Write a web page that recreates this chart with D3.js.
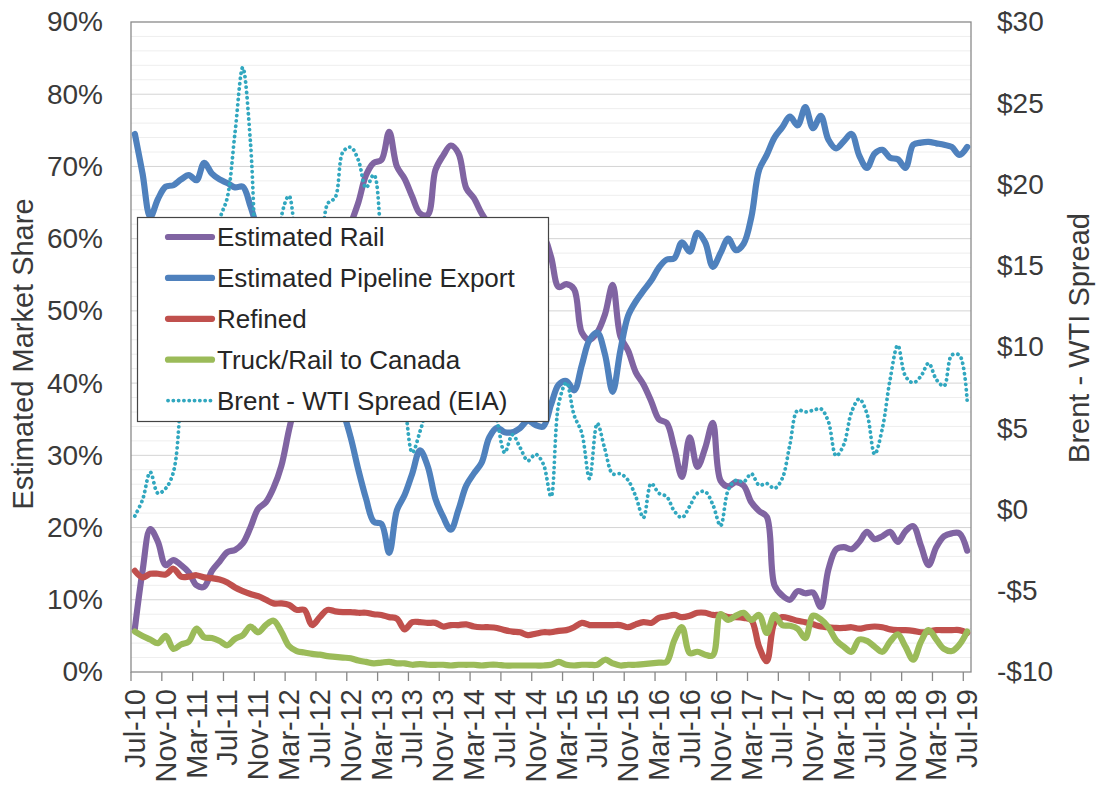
<!DOCTYPE html>
<html>
<head>
<meta charset="utf-8">
<script src="https://cdn.jsdelivr.net/npm/d3@7"></script>
<style>
body { margin: 0; background: #fff; }
svg { display: block; font-family: "Liberation Sans", Arial, sans-serif; }
</style>
</head>
<body>
<script>
// months Jul-10 .. Jul-19
let fmtMonth = d3.timeFormat("%b-%y");
let months = d3.timeMonth.range(new Date(2010, 6, 1), new Date(2019, 7, 1)).map(fmtMonth);
let tickMonths = months.filter(function (d, i) { return i % 4 === 0; });
let leftTicks = [0, 10, 20, 30, 40, 50, 60, 70, 80, 90];
let rightTicks = [-10, -5, 0, 5, 10, 15, 20, 25, 30];

// estimated market share, %
let rail = [6, 14, 19.8, 18, 14.8, 15.5, 14.8, 13.8, 12, 11.8,
    14, 15.3, 16.6, 16.9, 17.8, 20, 22.6, 23.5, 25.5, 28.5,
    33.5, 38, 42, 46, 50, 53, 56, 59, 62, 65,
    68.8, 70.5, 70.9, 74.8, 70, 68.3, 65.8, 63.5, 63.3, 69.5,
    71.5, 72.9, 71.8, 67, 65.6, 63.5, 62, 61.5, 61, 60.5,
    61, 60.5, 60.5, 60.3, 57.5, 53.3, 53.7, 53, 47, 46,
    47, 49.5, 53.6, 46.5, 44.5, 41.5, 39.8, 37.5, 35, 34.5,
    31, 27, 32.5, 28.4, 31, 34.5, 26.5, 25.7, 26.3, 25.8,
    23.5, 22.3, 21.5, 12, 10.6, 10, 11.2, 10.9, 11, 9,
    14.2, 17, 17.3, 17, 18, 19.4, 18.4, 18.8, 19.4, 18,
    19.5, 20.2, 17.5, 14.8, 17.3, 18.8, 19.2, 19.2, 16.8];
let pipeline = [74.5, 69, 63, 65.5, 67.2, 67.4, 68.2, 68.8, 68.1, 70.5,
    69, 68.2, 67.7, 67.1, 67.2, 64.5, 61, 58, 55.5, 53,
    50.5, 48, 46, 44, 42, 40, 38, 36, 32.5, 28,
    24, 20.8, 20.5, 16.5, 22.4, 24.5, 27.5, 30.7, 28.5, 24,
    21.5, 19.7, 22.5, 25.8, 27.5, 29, 32.5, 33.8, 33.2, 33.2,
    33.8, 34.8, 34.2, 34, 37, 39.8, 40.3, 39, 42.5, 46,
    47, 44, 38.8, 44.5, 49.3, 51.3, 52.8, 54.2, 56, 57.1,
    57.3, 59.5, 58.2, 60.8, 59.5, 56.1, 58, 60, 58.4, 59.3,
    63, 69.5, 71.6, 74, 75.4, 76.9, 75.7, 78.2, 75.3, 77,
    73.7, 72.5, 73.5, 74.5, 71.5, 69.8, 71.8, 72.3, 71.2, 71,
    69.8, 73, 73.3, 73.4, 73.2, 73, 72.7, 71.6, 72.7];
let refined = [14, 13.1, 13.6, 13.6, 13.5, 14.3, 13.2, 13.2, 13.4, 13.1,
    13, 12.8, 12.4, 11.7, 11.2, 10.8, 10.5, 10, 9.5, 9.5,
    9.3, 8.6, 8.6, 6.5, 7.6, 8.6, 8.4, 8.3, 8.3, 8.2,
    8.2, 8, 7.9, 7.6, 7.4, 5.9, 6.9, 6.9, 6.8, 6.8,
    6.3, 6.5, 6.5, 6.6, 6.3, 6.2, 6.2, 6.1, 5.8, 5.6,
    5.5, 5.1, 5.3, 5.5, 5.5, 5.7, 5.8, 6.2, 6.8, 6.5,
    6.5, 6.5, 6.5, 6.5, 6.2, 6.6, 6.9, 6.8, 7.5, 7.7,
    7.9, 7.6, 7.8, 8.2, 8.2, 7.9, 7.9, 7.6, 7.6, 7.5,
    7.2, 3.5, 1.5, 6.8, 7.6, 7.4, 7.1, 6.9, 6.6, 6.3,
    6.2, 6.1, 6.1, 6.2, 6, 6.2, 6.3, 6.2, 5.9, 5.8,
    5.8, 5.7, 5.5, 5.6, 5.8, 5.8, 5.8, 5.8, 5.4];
let truck = [5.6, 5, 4.5, 4, 5, 3.2, 3.8, 4.2, 6, 4.8,
    4.7, 4.3, 3.7, 4.6, 5.1, 6.3, 5.5, 6.5, 7.1, 5.6,
    3.6, 2.9, 2.7, 2.5, 2.4, 2.2, 2.1, 2, 1.9, 1.6,
    1.4, 1.2, 1.3, 1.4, 1.2, 1.2, 1, 1.1, 1, 1,
    1, 0.9, 1, 1, 1, 0.9, 1, 1, 0.9, 0.9,
    0.9, 0.9, 0.9, 0.9, 1, 1.4, 1, 0.9, 1, 1,
    1, 1.7, 1.2, 0.9, 1, 1, 1.1, 1.2, 1.3, 1.4,
    4.4, 6.2, 2.6, 2.8, 2.4, 2.3, 8, 7.2, 7.8, 8.2,
    7.2, 7.9, 5.4, 7.9, 6.5, 6.4, 6, 4.7, 7.8, 7.3,
    6.2, 4.4, 3.5, 2.8, 4.5, 4.3, 3.5, 2.8, 4.2, 5.2,
    3.5, 1.7, 4.2, 5.8, 4.5, 3.2, 2.9, 3.8, 5.6];
// Brent - WTI spread, $/bbl
let spread = [-0.4, 0.6, 2.3, 1, 1.3, 2.3, 7.2, 14.5, 11, 13.3,
    13.2, 17.8, 19.2, 23.2, 27.2, 22.6, 12.8, 9.5, 10.5, 18,
    19.3, 16.4, 15.2, 13.7, 14.7, 18.8, 19.2, 22, 22.3, 21.5,
    19.8, 20.6, 16.2, 10.5, 8.4, 6.5, 3.5, 4.8, 6.5, 8.9,
    14.5, 12.5, 13.7, 8.5, 7.3, 6, 7.3, 5.5, 3.5, 4.6,
    3.8, 3, 3.4, 2.8, 0.8, 6.5, 7.8, 5.8, 4.7, 1.9,
    5.3, 3.7, 2.2, 2.2, 1.8, 0.8, -0.5, 1.6, 1, 0.8,
    -0.1, -0.5, 0.2, 1, 1.1, 0.3, -1, 1.2, 1.8, 1.7,
    2.2, 1.5, 1.6, 1.3, 1.9, 4, 6.1, 6, 6.1, 6.2,
    5.4, 3.3, 4, 6, 6.8, 5.9, 3.4, 5, 8, 10.1,
    8.2, 7.8, 8.2, 9, 8, 7.6, 9.5, 9.5, 6.7];

let series = [
    {name: "Estimated Rail", values: rail, color: "#8064a2", right: false},
    {name: "Estimated Pipeline Export", values: pipeline, color: "#4f81bd", right: false},
    {name: "Refined", values: refined, color: "#c0504d", right: false},
    {name: "Truck/Rail to Canada", values: truck, color: "#9bbb59", right: false},
    {name: "Brent - WTI Spread (EIA)", values: spread, color: "#31a7bf", right: true}
];

function draw() {
    let W = 1097, H = 785;
    let left = 131, right = 971, top = 22, bottom = 672;
    let textColor = "#3a3a3a";

    let svg = d3.select("body").append("svg")
        .attr("width", W)
        .attr("height", H);

    let x = d3.scaleBand().domain(months).range([left, right]).padding(0);
    let yL = d3.scaleLinear().domain([0, 90]).range([bottom, top]);
    let yR = d3.scaleLinear().domain([-10, 30]).range([bottom, top]);

    // gridlines, light every 2%, darker every 10%
    svg.append("g").selectAll("line")
        .data(yL.ticks(45).filter(function (d) { return d > 0 && d < 90; }))
        .enter().append("line")
        .attr("x1", left).attr("x2", right)
        .attr("y1", function (d) { return yL(d); })
        .attr("y2", function (d) { return yL(d); })
        .attr("stroke", function (d) { return d % 10 === 0 ? "#d4d4d4" : "#eeeeee"; })
        .attr("stroke-width", 1);

    // left axis labels
    let axL = svg.append("g")
        .attr("transform", "translate(" + left + ",0)")
        .call(d3.axisLeft(yL).tickValues(leftTicks).tickSize(0).tickPadding(28)
            .tickFormat(function (d) { return d + "%"; }));
    axL.select(".domain").remove();
    axL.selectAll("text").attr("font-size", 28).attr("fill", textColor)
        .style("font-family", "Liberation Sans, Arial, sans-serif");

    // right axis labels
    let axR = svg.append("g")
        .attr("transform", "translate(" + right + ",0)")
        .call(d3.axisRight(yR).tickValues(rightTicks).tickSize(0).tickPadding(26)
            .tickFormat(function (d) { return (d < 0 ? "-$" : "$") + Math.abs(d); }));
    axR.select(".domain").remove();
    axR.selectAll("text").attr("font-size", 28).attr("fill", textColor)
        .style("font-family", "Liberation Sans, Arial, sans-serif");

    // bottom axis: tick marks on month boundaries, labels on month centres
    svg.append("g").selectAll("line")
        .data(tickMonths)
        .enter().append("line")
        .attr("x1", function (d) { return x(d); })
        .attr("x2", function (d) { return x(d); })
        .attr("y1", bottom).attr("y2", bottom + 9)
        .attr("stroke", "#888").attr("stroke-width", 1.3);
    let axB = svg.append("g")
        .attr("transform", "translate(0," + bottom + ")")
        .call(d3.axisBottom(x).tickValues(tickMonths).tickSize(0));
    axB.select(".domain").remove();
    axB.selectAll("text")
        .attr("transform", "rotate(-90)")
        .attr("x", -17).attr("y", 0).attr("dy", "0.35em")
        .attr("text-anchor", "end")
        .attr("font-size", 29).attr("fill", textColor)
        .style("font-family", "Liberation Sans, Arial, sans-serif");

    // plot frame
    svg.append("rect")
        .attr("x", left).attr("y", top)
        .attr("width", right - left).attr("height", bottom - top)
        .attr("fill", "none").attr("stroke", "#8a8a8a").attr("stroke-width", 1.3);

    // axis titles
    svg.append("text")
        .attr("transform", "translate(33,354) rotate(-90)")
        .attr("text-anchor", "middle")
        .attr("font-size", 29).attr("fill", textColor)
        .text("Estimated Market Share");
    svg.append("text")
        .attr("transform", "translate(1089,338) rotate(-90)")
        .attr("text-anchor", "middle")
        .attr("font-size", 29).attr("fill", textColor)
        .text("Brent - WTI Spread");

    // lines
    let lineL = d3.line()
        .x(function (d, i) { return x(months[i]) + x.bandwidth() / 2; })
        .y(function (d) { return yL(d); })
        .curve(d3.curveCatmullRom);
    let lineR = d3.line()
        .x(function (d, i) { return x(months[i]) + x.bandwidth() / 2; })
        .y(function (d) { return yR(d); })
        .curve(d3.curveCatmullRom);

    svg.append("g").selectAll("path")
        .data(series)
        .enter().append("path")
        .attr("d", function (s) { return s.right ? lineR(s.values) : lineL(s.values); })
        .attr("fill", "none")
        .attr("stroke", function (s) { return s.color; })
        .attr("stroke-width", function (s) { return s.right ? 3.8 : 6.2; })
        .attr("stroke-linecap", "round")
        .attr("stroke-linejoin", "round")
        .attr("stroke-dasharray", function (s) { return s.right ? "0.1,5.2" : null; });

    // legend
    let lg = svg.append("g");
    lg.append("rect")
        .attr("x", 137.5).attr("y", 217.5)
        .attr("width", 411).attr("height", 204)
        .attr("fill", "#fff").attr("stroke", "#444").attr("stroke-width", 1.2);
    let rowY = function (i) { return 237 + i * 40.9; };
    lg.selectAll(".lgline")
        .data(series)
        .enter().append("line")
        .attr("class", "lgline")
        .attr("x1", 168).attr("x2", 212)
        .attr("y1", function (s, i) { return rowY(i); })
        .attr("y2", function (s, i) { return rowY(i); })
        .attr("stroke", function (s) { return s.color; })
        .attr("stroke-width", function (s) { return s.right ? 3.8 : 6.2; })
        .attr("stroke-linecap", "round")
        .attr("stroke-dasharray", function (s) { return s.right ? "0.1,5.2" : null; });
    lg.selectAll(".lgtext")
        .data(series)
        .enter().append("text")
        .attr("class", "lgtext")
        .attr("x", 217)
        .attr("y", function (s, i) { return rowY(i); })
        .attr("dy", "0.35em")
        .attr("font-size", 26)
        .attr("fill", "#262626")
        .text(function (s) { return s.name; });
}

draw();
</script>
</body>
</html>
